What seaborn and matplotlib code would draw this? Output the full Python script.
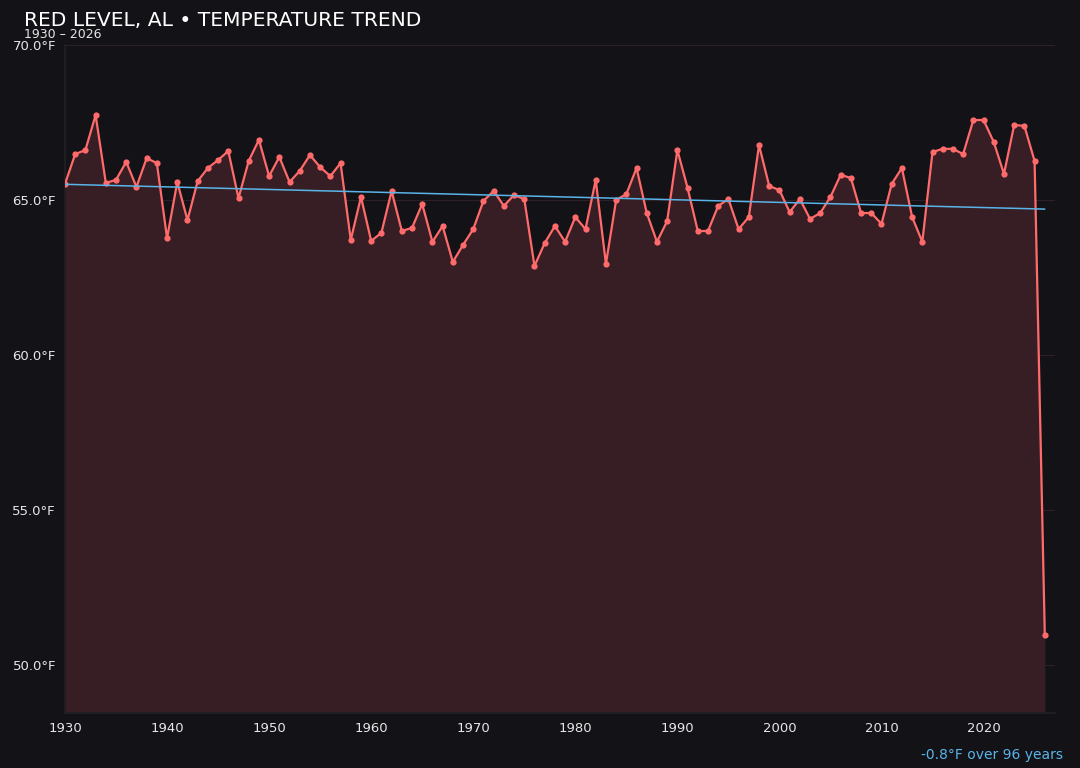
import numpy as np
import pandas as pd
import matplotlib
matplotlib.use("Agg")
import matplotlib.pyplot as plt
import seaborn as sns

# data
years = list(range(1930, 2027))
temps = [
    65.52, 66.48, 66.61, 67.74, 65.55, 65.65, 66.23, 65.42, 66.35, 66.19,
    63.77, 65.58, 64.35, 65.61, 66.03, 66.29, 66.58, 65.06, 66.26, 66.94,
    65.77, 66.39, 65.58, 65.94, 66.45, 66.06, 65.77, 66.19, 63.71, 65.10,
    63.68, 63.94, 65.29, 64.00, 64.10, 64.87, 63.65, 64.16, 63.00, 63.55,
    64.06, 64.97, 65.29, 64.81, 65.16, 65.03, 62.87, 63.61, 64.16, 63.65,
    64.45, 64.06, 65.65, 62.94, 65.00, 65.19, 66.03, 64.58, 63.65, 64.32,
    66.61, 65.39, 64.00, 64.00, 64.81, 65.03, 64.06, 64.45, 66.77, 65.45,
    65.32, 64.61, 65.03, 64.39, 64.58, 65.10, 65.81, 65.71, 64.58, 64.58,
    64.23, 65.52, 66.03, 64.45, 63.65, 66.55, 66.65, 66.65, 66.48, 67.58,
    67.58, 66.87, 65.84, 67.42, 67.39, 66.26, 50.97,
]
x_ticks = [1930, 1940, 1950, 1960, 1970, 1980, 1990, 2000, 2010, 2020]
y_ticks = [50, 55, 60, 65, 70]

df = pd.DataFrame({"year": years, "temp": temps})

# linear trend
slope, intercept = np.polyfit(df["year"], df["temp"], 1)
df["trend"] = slope * df["year"] + intercept
span = years[-1] - years[0]
change = slope * span

bg = "#131217"
line_col = "#ff6b6b"
trend_col = "#5ab4e8"
text_col = "#e6e6e6"

sns.set_theme(style="dark")
plt.rcParams["font.family"] = ["DejaVu Sans"]

fig = plt.figure(figsize=(10.8, 7.68), dpi=100, facecolor=bg)
ax = fig.add_axes([65 / 1080, 1 - 713 / 768, (1055 - 65) / 1080, (713 - 45) / 768])
ax.set_facecolor(bg)

ymin, ymax = 48.45, 70.0
ax.fill_between(df["year"], df["temp"], ymin, color="#3a1f25", alpha=0.95, lw=0, zorder=1)
sns.lineplot(data=df, x="year", y="temp", ax=ax, color=line_col, lw=1.6,
             marker="o", markersize=4.5, markeredgewidth=0, zorder=3)
sns.lineplot(data=df, x="year", y="trend", ax=ax, color=trend_col, lw=1.1, zorder=4)

ax.set_xlim(1930, 2027)
ax.set_ylim(ymin, ymax)
ax.set_xticks(x_ticks)
ax.set_yticks(y_ticks)
ax.set_yticklabels([f"{v:.1f}°F" for v in y_ticks])
ax.set_xlabel("")
ax.set_ylabel("")
ax.tick_params(colors=text_col, labelsize=9.5, length=3, color="#25252b")
ax.yaxis.grid(True, color="#2a2228", lw=0.8)
ax.xaxis.grid(False)
for side in ["top", "right"]:
    ax.spines[side].set_visible(False)
for side in ["left", "bottom"]:
    ax.spines[side].set_visible(True)
    ax.spines[side].set_color("#1f1f25")

fig.text(24 / 1080, 1 - 21 / 768, "RED LEVEL, AL • TEMPERATURE TREND", color="white",
         fontsize=14.6, va="center", ha="left")
fig.text(24 / 1080, 1 - 35 / 768, f"{years[0]} – {years[-1]}", color=text_col,
         fontsize=9, va="center", ha="left")
fig.text(1063 / 1080, 1 - 755 / 768, f"{change:+.1f}°F over {span} years".replace("+", ""),
         color=trend_col, fontsize=10, va="center", ha="right")

fig.savefig("out.png", dpi=100, facecolor=bg)
